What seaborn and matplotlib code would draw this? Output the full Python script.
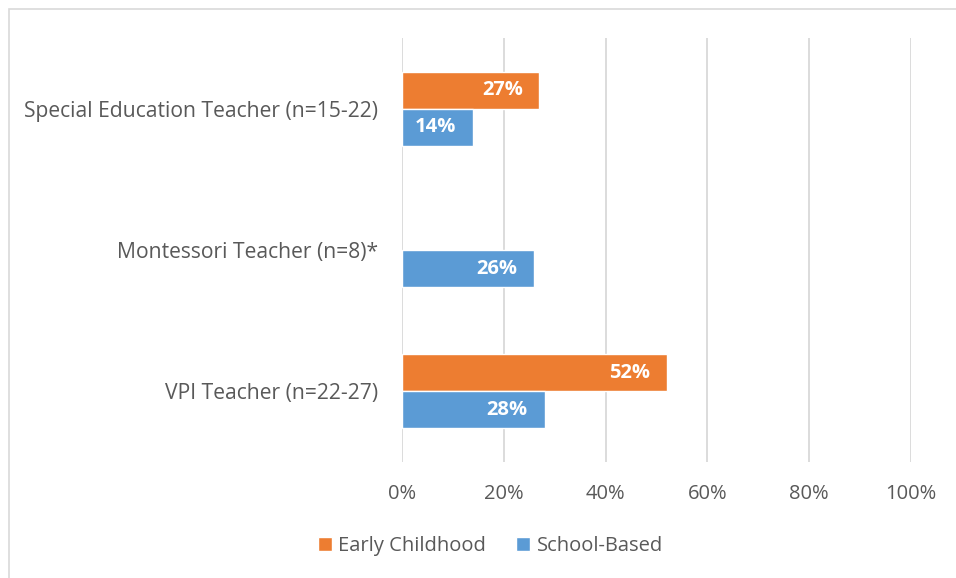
import pandas as pd
import numpy as np
import matplotlib.pyplot as plt
import seaborn as sns
from matplotlib.patches import Rectangle

# values
roles = ["Special Education Teacher (n=15-22)", "Montessori Teacher (n=8)*", "VPI Teacher (n=22-27)"]
early_childhood = [27, np.nan, 52]
school_based = [14, 26, 28]
series = ["Early Childhood", "School-Based"]
colors = ["#ED7D31", "#5B9BD5"]
x_ticks = [0, 20, 40, 60, 80, 100]

df = pd.DataFrame({
    "Role": roles * 2,
    "Setting": [series[0]] * 3 + [series[1]] * 3,
    "Pct": early_childhood + school_based,
})

sns.set_style("white")
plt.rcParams["font.family"] = ["Open Sans", "DejaVu Sans"]

fig = plt.figure(figsize=(9.56, 5.78), dpi=100)
ax = fig.add_axes([0.4205, 0.2007, 0.5325, 0.7336])

sns.barplot(data=df, y="Role", x="Pct", hue="Setting", order=roles,
            hue_order=series, palette=colors, orient="h", width=0.525,
            saturation=1, ax=ax, legend=True)

ax.set_xlim(0, 100)
ax.set_xticks(x_ticks)
ax.set_xticklabels([f"{t}%" for t in x_ticks], fontsize=14.5, color="#595959")
ax.tick_params(axis="y", labelsize=15.2, labelcolor="#595959", length=0, pad=17)
ax.tick_params(axis="x", length=0, pad=16)
ax.set_xlabel("")
ax.set_ylabel("")
ax.grid(axis="x", color="#D9D9D9", linewidth=1.3)
ax.set_axisbelow(True)
for s in ax.spines.values():
    s.set_visible(False)

# data labels inside the bar end, right aligned
for cont in ax.containers:
    labels = ["" if np.isnan(v) else f"{v:.0f}%" for v in cont.datavalues]
    texts = ax.bar_label(cont, labels=labels, label_type="edge", padding=-12,
                         color="white", fontsize=14.5, fontweight="bold")
    for t in texts:
        t.set_horizontalalignment("right")

ax.legend(loc="center", bbox_to_anchor=(0.513, 0.055), bbox_transform=fig.transFigure,
          frameon=False, ncol=2, fontsize=14.5, handlelength=0.7, handleheight=0.7,
          columnspacing=1.5, handletextpad=0.3, labelcolor="#595959")

# light frame around chart area
fig.patches.append(Rectangle((0.009, -0.01), 1.1, 0.995, transform=fig.transFigure,
                             fill=False, edgecolor="#D9D9D9", linewidth=1.2))

fig.savefig("out.png", dpi=100)
